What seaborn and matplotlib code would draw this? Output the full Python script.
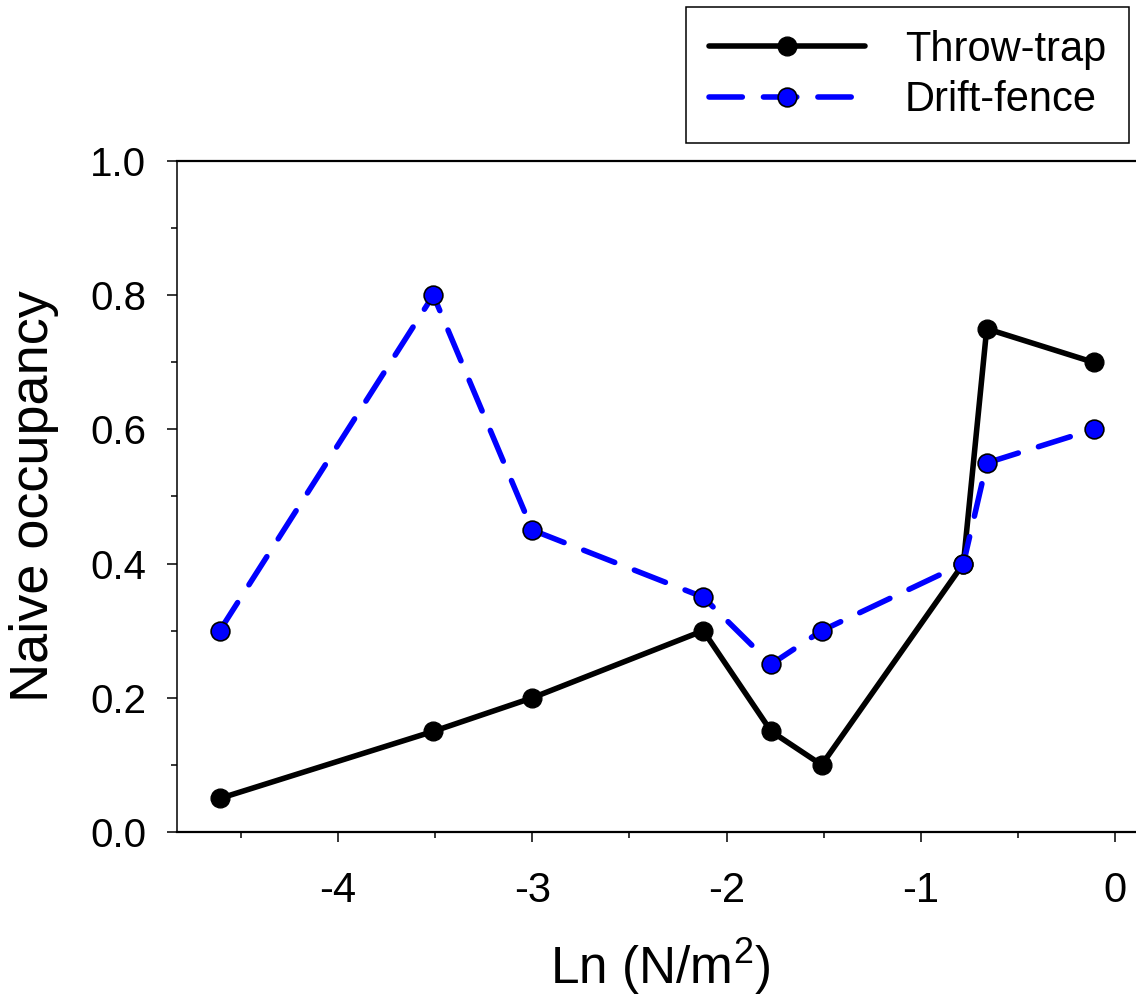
import numpy as np
import pandas as pd
import matplotlib
matplotlib.use("Agg")
import matplotlib.pyplot as plt
from matplotlib.ticker import MultipleLocator, FormatStrFormatter
import seaborn as sns

# ---- data ----
ln_density = [-4.61, -3.51, -3.00, -2.12, -1.77, -1.51, -0.78, -0.66, -0.11]
throw_trap = [0.05, 0.15, 0.20, 0.30, 0.15, 0.10, 0.40, 0.75, 0.70]
drift_fence = [0.30, 0.80, 0.45, 0.35, 0.25, 0.30, 0.40, 0.55, 0.60]
series_names = ["Throw-trap", "Drift-fence"]
x_ticks = [-4, -3, -2, -1, 0]
y_ticks = [0.0, 0.2, 0.4, 0.6, 0.8, 1.0]

sns.set_style("ticks")
plt.rcParams["font.family"] = ["Liberation Sans", "DejaVu Sans"]
plt.rcParams["mathtext.fontset"] = "custom"
plt.rcParams["mathtext.rm"] = "Liberation Sans"
plt.rcParams["mathtext.default"] = "rm"
plt.rcParams["text.color"] = "black"
plt.rcParams["axes.labelcolor"] = "black"
plt.rcParams["xtick.color"] = "black"
plt.rcParams["ytick.color"] = "black"

W, H = 1136, 1002
fig = plt.figure(figsize=(W / 100, H / 100), dpi=100)
left_px, right_px, top_px, bot_px = 177, 1144, 161, 832
ax = fig.add_axes([left_px / W, 1 - bot_px / H, (right_px - left_px) / W, (bot_px - top_px) / H])

lw = 4.0
sns.lineplot(x=ln_density, y=throw_trap, ax=ax, color="black", lw=lw,
             marker="o", markersize=13.5, markerfacecolor="black",
             markeredgecolor="black", markeredgewidth=1.0,
             label=series_names[0], zorder=3)
sns.lineplot(x=ln_density, y=drift_fence, ax=ax, color="#0000ff", lw=lw,
             linestyle=(0, (6.0, 3.8)), dash_capstyle="round",
             marker="o", markersize=13.5, markerfacecolor="#0000ff",
             markeredgecolor="black", markeredgewidth=1.2,
             label=series_names[1], zorder=4)

ax.set_xlim(-4.83, 0.15)
ax.set_ylim(0, 1.0)
ax.set_xticks(x_ticks)
ax.set_xticklabels([str(t) for t in x_ticks])
ax.set_yticks(y_ticks)
ax.yaxis.set_major_formatter(FormatStrFormatter("%.1f"))
ax.xaxis.set_minor_locator(MultipleLocator(0.5))
ax.yaxis.set_minor_locator(MultipleLocator(0.1))

for side in ["left", "bottom", "top", "right"]:
    ax.spines[side].set_visible(True)
    ax.spines[side].set_color("black")
ax.spines["left"].set_linewidth(1.1)
ax.spines["bottom"].set_linewidth(1.6)
ax.spines["top"].set_linewidth(1.6)

ax.tick_params(axis="both", which="major", direction="out", length=7.2, width=1.1,
               colors="black", labelcolor="black", labelsize=29)
ax.tick_params(axis="x", which="major", labelsize=30)
ax.tick_params(axis="both", which="minor", direction="out", length=4.3, width=1.1,
               colors="black")
ax.tick_params(axis="y", which="major", pad=15)
ax.tick_params(axis="x", which="major", pad=21)
ax.tick_params(top=False, right=False, which="both")

ax.set_xlabel("Ln (N/m$^2$)", fontsize=37, labelpad=18, color="black")
ax.set_ylabel("Naive occupancy", fontsize=39, labelpad=22, color="black")

handles, labels = ax.get_legend_handles_labels()
leg = ax.legend(handles, labels, loc="upper right",
                bbox_to_anchor=(1129 / W, 1 - 7 / H), bbox_transform=fig.transFigure,
                fontsize=30, frameon=True, fancybox=False, edgecolor="black",
                framealpha=1, borderaxespad=0, handlelength=3.75, handletextpad=0.95,
                labelspacing=0.25, borderpad=0.55, numpoints=1)
leg.get_frame().set_linewidth(1.1)
for t in leg.get_texts():
    t.set_color("black")

fig.savefig("out.png", dpi=100)
